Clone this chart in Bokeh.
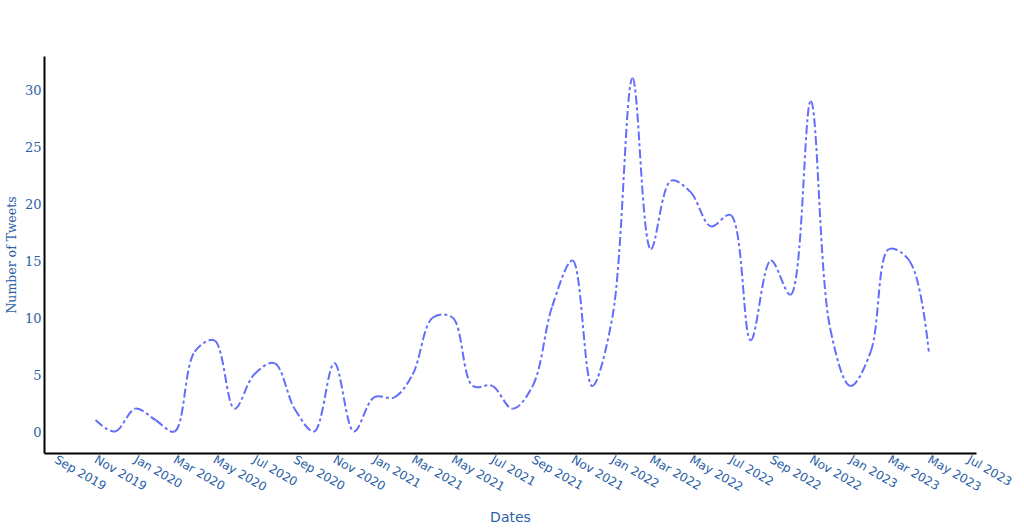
import math
import numpy as np
import pandas as pd
from bokeh.plotting import figure
from bokeh.models import Range1d, FixedTicker, DatetimeTickFormatter
from bokeh.embed import file_html
from bokeh.resources import INLINE

# ---- data (monthly tweet counts) ----
months = pd.date_range("2019-11-01", "2023-05-01", freq="MS")
tweets = [1, 0, 2, 1, 0, 7, 8, 2, 5, 6, 2, 0, 6, 0, 3, 3, 5, 10, 10, 4, 4, 2,
          4, 11, 15, 4, 10, 31, 16, 22, 21, 18, 19, 8, 15, 12, 29, 9, 4, 7, 16, 15, 7]
tick_dates = pd.date_range("2019-09-01", "2023-07-01", freq="2MS")
y_ticks = [0, 5, 10, 15, 20, 25, 30]
x_title = "Dates"
y_title = "Number of Tweets"

LINE = "#636efa"
TXT = "#2d5fa8"

def ms(ts):
    return pd.Timestamp(ts).value / 1e6

x_start = ms(months[0]) - 78.2 * 86400000
x_end = ms(months[-1]) + 73.1 * 86400000
y_start, y_end = -1.93, 32.9
W, H = 932.0, 397.0

p = figure(width=1024, height=528, x_axis_type="datetime", output_backend="svg",
           toolbar_location=None, min_border_left=44, min_border_right=48,
           min_border_top=56, min_border_bottom=75,
           x_range=Range1d(x_start, x_end), y_range=Range1d(y_start, y_end))
p.outline_line_color = None
p.grid.visible = False
p.background_fill_color = "white"

# plotly-style spline (centripetal tangents computed in pixel space)
xs = np.array([ms(m) for m in months])
ys = np.array(tweets, dtype=float)
sx = W / (x_end - x_start)
sy = H / (y_end - y_start)
px = (xs - x_start) * sx
py = (ys - y_start) * sy

def tangent(prev, this, nxt, s=1.0):
    d1x, d1y = prev[0] - this[0], prev[1] - this[1]
    d2x, d2y = nxt[0] - this[0], nxt[1] - this[1]
    d1a = (d1x * d1x + d1y * d1y) ** 0.25
    d2a = (d2x * d2x + d2y * d2y) ** 0.25
    numx = (d2a * d2a * d1x - d1a * d1a * d2x) * s
    numy = (d2a * d2a * d1y - d1a * d1a * d2y) * s
    den1 = 3 * d2a * (d1a + d2a)
    den2 = 3 * d1a * (d1a + d2a)
    a = (this[0] + (numx / den1 if den1 else 0), this[1] + (numy / den1 if den1 else 0))
    b = (this[0] - (numx / den2 if den2 else 0), this[1] - (numy / den2 if den2 else 0))
    return a, b

pts = list(zip(px, py))
tans = [tangent(pts[i - 1], pts[i], pts[i + 1]) for i in range(1, len(pts) - 1)]

def tx(v):
    return v / sx + x_start

def ty(v):
    return v / sy + y_start

style = dict(line_color=LINE, line_width=2, line_dash="9 3 3 3")
p.quadratic(x0=[xs[0], xs[-2]], y0=[ys[0], ys[-2]], x1=[xs[1], xs[-1]], y1=[ys[1], ys[-1]],
            cx=[tx(tans[0][0][0]), tx(tans[-1][1][0])],
            cy=[ty(tans[0][0][1]), ty(tans[-1][1][1])], **style)
bx0, by0, bx1, by1, c0x, c0y, c1x, c1y = [], [], [], [], [], [], [], []
for i in range(2, len(pts) - 1):
    bx0.append(xs[i - 1]); by0.append(ys[i - 1])
    bx1.append(xs[i]); by1.append(ys[i])
    c0x.append(tx(tans[i - 2][1][0])); c0y.append(ty(tans[i - 2][1][1]))
    c1x.append(tx(tans[i - 1][0][0])); c1y.append(ty(tans[i - 1][0][1]))
p.bezier(x0=bx0, y0=by0, x1=bx1, y1=by1, cx0=c0x, cy0=c0y, cx1=c1x, cy1=c1y, **style)

# axes
for ax in (p.xaxis[0], p.yaxis[0]):
    ax.axis_line_color = "black"
    ax.axis_line_width = 2
    ax.major_tick_line_color = None
    ax.minor_tick_line_color = None
    ax.major_tick_out = 0
    ax.major_tick_in = 0
    ax.minor_tick_out = 0
    ax.minor_tick_in = 0
    ax.major_label_text_color = TXT
    ax.axis_label_text_color = TXT
    ax.axis_label_text_font_style = "normal"

p.xaxis.ticker = FixedTicker(ticks=[ms(t) for t in tick_dates])
p.xaxis.formatter = DatetimeTickFormatter(days="%b %Y", months="%b %Y", years="%b %Y",
                                          hours="%b %Y", context=None)
p.xaxis.major_label_orientation = -math.pi / 6
p.xaxis.major_label_text_font = "DejaVu Sans"
p.xaxis.major_label_text_font_size = "12px"
p.xaxis.major_label_standoff = 5
p.xaxis.axis_label = x_title
p.xaxis.axis_label_text_font = "DejaVu Sans"
p.xaxis.axis_label_text_font_size = "14px"
p.xaxis.axis_label_standoff = 6

p.yaxis.ticker = FixedTicker(ticks=y_ticks)
p.yaxis.major_label_text_font = "DejaVu Serif"
p.yaxis.major_label_text_font_size = "13px"
p.yaxis.major_label_standoff = 3
p.yaxis.axis_label = y_title
p.yaxis.axis_label_text_font = "DejaVu Serif"
p.yaxis.axis_label_text_font_size = "12.5px"
p.yaxis.axis_label_standoff = 3

open("out.html", "w").write(file_html(p, INLINE))
